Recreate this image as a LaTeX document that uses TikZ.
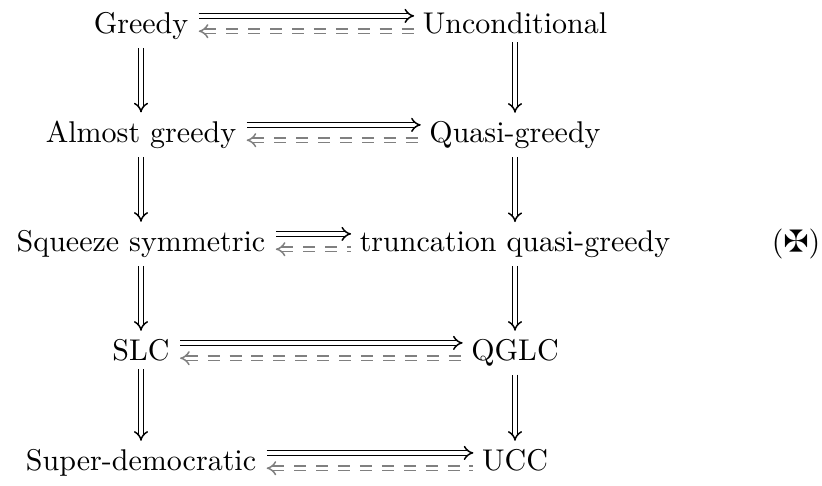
\documentclass[tikz,border=0pt]{standalone}
\usepackage{amssymb}
\usetikzlibrary{arrows.meta}
\begin{document}
\begin{tikzpicture}[x=0.33333pt,y=-0.33333pt,
  lbl/.style={inner sep=0pt, anchor=base},
  impl/.style={double, double distance=1.1pt, line width=0.5pt, -{Implies[scale=1.25]}},
  back/.style={double, double distance=1.1pt, line width=0.5pt, {Implies[scale=1.25]}-, draw=gray, dash pattern=on 4pt off 3.3pt},
  hgap/.style={shorten <=3.3pt, shorten >=2.7pt},
  bgap/.style={shorten <=3.3pt, shorten >=2.7pt},
  vgap/.style={shorten <=2.7pt, shorten >=2.5pt}]
\useasboundingbox (0,0) rectangle (822,485);
\node[lbl] (g)    at (141,33)  {Greedy};
\node[lbl] (u)    at (515,33)  {Unconditional};
\node[lbl] (ag)   at (141,142) {Almost greedy};
\node[lbl] (qg)   at (515,142) {Quasi-greedy};
\node[lbl] (ss)   at (141,251) {Squeeze symmetric};
\node[lbl] (tqg)  at (515,251) {truncation quasi-greedy};
\node[lbl] (mx)   at (796,251) {(\maltese)};
\node[lbl] (slc)  at (141,360) {SLC};
\node[lbl] (qglc) at (515,360) {QGLC};
\node[lbl] (sd)   at (141,470) {Super-democratic};
\node[lbl] (ucc)  at (515,470) {UCC};
% horizontal pairs
\foreach \a/\b in {g/u, ag/qg, ss/tqg, slc/qglc, sd/ucc}{
  \draw[impl, hgap] ([yshift=5.7pt]\a.base east) -- ([yshift=5.7pt]\b.base west);
  \draw[back, bgap] ([yshift=0.6pt]\a.base east) -- ([yshift=0.6pt]\b.base west);
}
% vertical arrows
\foreach \a/\b in {g/ag, ag/ss, ss/slc, slc/sd, u/qg, qg/tqg, tqg/qglc, qglc/ucc}{
  \draw[impl, vgap] (\a.south) -- (\b.north);
}
\end{tikzpicture}
\end{document}
